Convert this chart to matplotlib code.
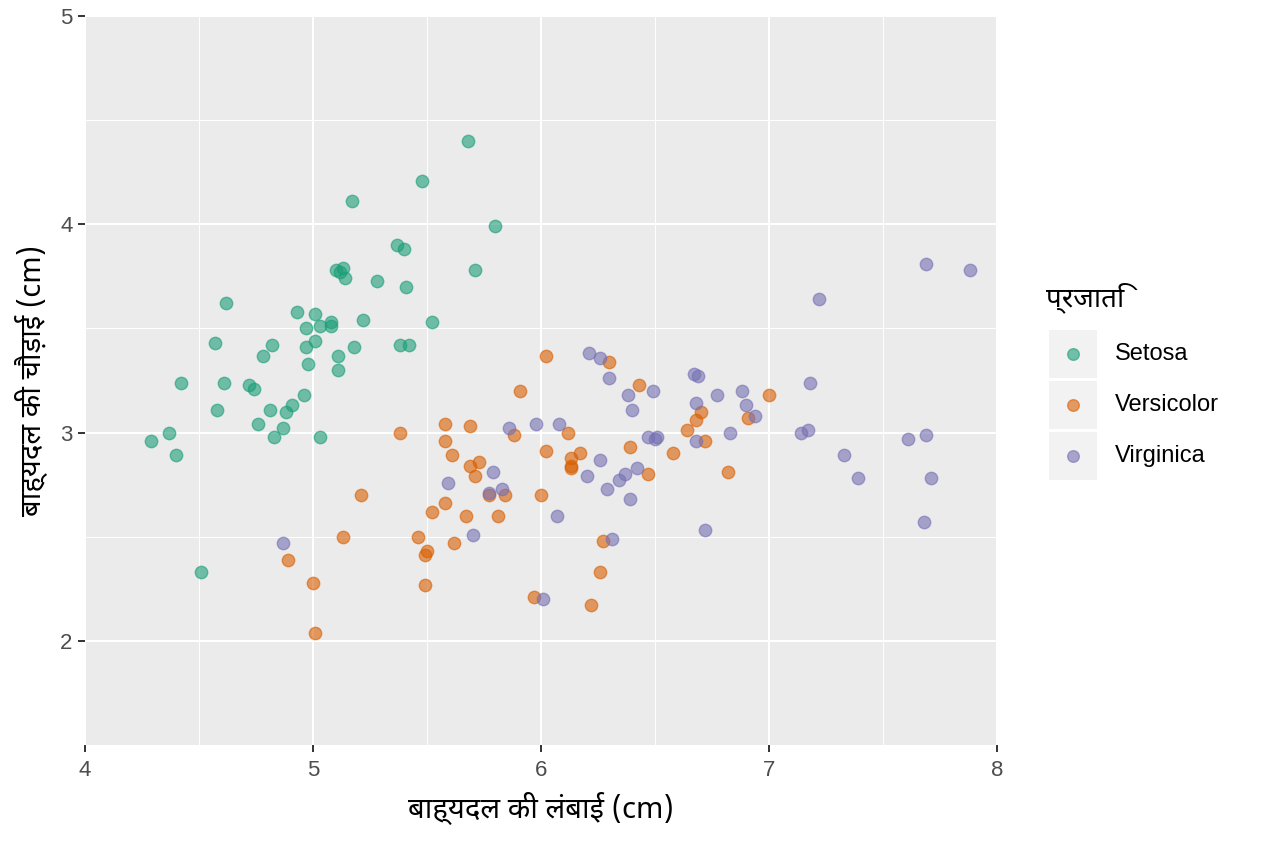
import numpy as np
import matplotlib
matplotlib.use("Agg")
import matplotlib.pyplot as plt
from matplotlib import font_manager
from matplotlib.patches import Rectangle

setosa_x = [4.29, 4.37, 4.40, 4.42, 4.51, 4.57, 4.58, 4.61, 4.62, 4.72,
            4.74, 4.76, 4.78, 4.81, 4.82, 4.83, 4.87, 4.88, 4.91, 4.93,
            4.96, 4.97, 4.97, 4.98, 5.01, 5.01, 5.03, 5.03, 5.08, 5.08,
            5.10, 5.11, 5.11, 5.12, 5.13, 5.14, 5.17, 5.18, 5.22, 5.28,
            5.37, 5.38, 5.40, 5.41, 5.42, 5.48, 5.52, 5.68, 5.71, 5.80]
setosa_y = [2.96, 3.00, 2.89, 3.24, 2.33, 3.43, 3.11, 3.24, 3.62, 3.23,
            3.21, 3.04, 3.37, 3.11, 3.42, 2.98, 3.02, 3.10, 3.13, 3.58,
            3.18, 3.41, 3.50, 3.33, 3.57, 3.44, 2.98, 3.51, 3.51, 3.53,
            3.78, 3.37, 3.30, 3.77, 3.79, 3.74, 4.11, 3.41, 3.54, 3.73,
            3.90, 3.42, 3.88, 3.70, 3.42, 4.21, 3.53, 4.40, 3.78, 3.99]

versicolor_x = [6.02, 5.91, 5.38, 5.58, 5.69, 5.58, 5.61, 5.73, 5.69, 5.71,
                5.88, 5.77, 5.84, 5.58, 5.52, 5.67, 5.81, 6.02, 6.00, 6.12,
                6.13, 6.13, 6.13, 6.17, 6.30, 6.43, 6.39, 6.47, 6.58, 5.21,
                5.13, 5.46, 5.50, 5.49, 5.62, 4.89, 5.00, 5.49, 5.01, 5.97,
                6.27, 6.26, 6.22, 7.00, 6.70, 6.68, 6.64, 6.91, 6.72, 6.82]
versicolor_y = [3.37, 3.20, 3.00, 3.04, 3.03, 2.96, 2.89, 2.86, 2.84, 2.79,
                2.99, 2.70, 2.70, 2.66, 2.62, 2.60, 2.60, 2.91, 2.70, 3.00,
                2.88, 2.83, 2.84, 2.90, 3.34, 3.23, 2.93, 2.80, 2.90, 2.70,
                2.50, 2.50, 2.43, 2.41, 2.47, 2.39, 2.28, 2.27, 2.04, 2.21,
                2.48, 2.33, 2.17, 3.18, 3.10, 3.06, 3.01, 3.07, 2.96, 2.81]

virginica_x = [6.21, 6.26, 6.30, 6.38, 6.40, 6.49, 5.86, 5.98, 6.08, 5.59,
               5.79, 5.77, 5.83, 6.07, 6.20, 6.26, 6.29, 6.34, 6.37, 6.42,
               6.39, 6.47, 6.51, 6.50, 4.87, 5.70, 6.31, 6.01, 6.67, 6.69,
               6.77, 6.88, 6.68, 6.90, 6.94, 6.83, 6.68, 7.18, 7.14, 7.17,
               7.33, 7.39, 7.61, 7.69, 7.71, 7.68, 6.72, 7.22, 7.69, 7.88]
virginica_y = [3.38, 3.36, 3.26, 3.18, 3.11, 3.20, 3.02, 3.04, 3.04, 2.76,
               2.81, 2.71, 2.73, 2.60, 2.79, 2.87, 2.73, 2.77, 2.80, 2.83,
               2.68, 2.98, 2.98, 2.97, 2.47, 2.51, 2.49, 2.20, 3.28, 3.27,
               3.18, 3.20, 3.14, 3.13, 3.08, 3.00, 2.96, 3.24, 3.00, 3.01,
               2.89, 2.78, 2.97, 2.99, 2.78, 2.57, 2.53, 3.64, 3.81, 3.78]

species = ["Setosa", "Versicolor", "Virginica"]
colors = ["#1B9E77", "#D95F02", "#7570B3"]

x_label = "बाह्यदल की लंबाई (cm)"
y_label = "बाह्यदल की चौड़ाई (cm)"
legend_title = "प्रजाति"

# pick a proper Devanagari sans face (matplotlib would otherwise fall back to Unifont)
installed = {f.name for f in font_manager.fontManager.ttflist}
deva = next((n for n in ["Noto Sans Devanagari", "Mukta", "Hind", "Poppins",
                         "Ek Mukta", "FreeSans"] if n in installed), None)
latin = "Liberation Sans"
latin_fam = [latin, "DejaVu Sans"]
deva_fam = [deva, latin, "DejaVu Sans"] if deva else latin_fam
plt.rcParams["font.family"] = latin_fam

W, H = 1264, 843
fig = plt.figure(figsize=(W / 100, H / 100), dpi=100)
ax = fig.add_axes([85 / W, 1 - 745 / H, 912 / W, 729 / H])
ax.set_facecolor("#EBEBEB")

data = [(setosa_x, setosa_y), (versicolor_x, versicolor_y), (virginica_x, virginica_y)]
for (xs, ys), c in zip(data, colors):
    ax.scatter(xs, ys, s=80, color=c, alpha=0.6, edgecolors=c, linewidths=1.0, zorder=3)

ax.set_xlim(4, 8)
ax.set_ylim(1.5, 5)
ax.set_xticks([4, 5, 6, 7, 8])
ax.set_yticks([2, 3, 4, 5])
ax.set_xticks([4.5, 5.5, 6.5, 7.5], minor=True)
ax.set_yticks([1.5, 2.5, 3.5, 4.5], minor=True)
ax.grid(which="major", color="white", linewidth=1.5)
ax.grid(which="minor", color="white", linewidth=0.7)
ax.set_axisbelow(True)
for sp in ax.spines.values():
    sp.set_visible(False)
ax.tick_params(which="major", length=5, width=1.4, color="#333333",
               labelcolor="#4D4D4D", labelsize=16, pad=4)
ax.tick_params(axis="x", which="major", pad=6)
ax.tick_params(which="minor", length=0)

ax.set_xlabel(x_label, fontsize=21, family=deva_fam, color="black", labelpad=8)
ax.set_ylabel(y_label, fontsize=21, family=deva_fam, color="black", labelpad=9)

# legend, ggplot style: grey key boxes, laid out in pixel units
lax = fig.add_axes([1040 / W, 1 - 490 / H, 224 / W, 220 / H])
lax.set_xlim(1040, 1264)
lax.set_ylim(490, 270)
lax.axis("off")
lax.text(1046, 298, legend_title, fontsize=20, family=deva_fam, va="center", ha="left")
for i, (name, c) in enumerate(zip(species, colors)):
    top = 330 + i * 51
    lax.add_patch(Rectangle((1049, top), 48, 48, facecolor="#F2F2F2", edgecolor="none"))
    lax.scatter([1073], [top + 24], s=70, color=c, alpha=0.6, edgecolors=c, linewidths=1.0)
    lax.text(1115, top + 24, name, fontsize=17, va="center", ha="left")

fig.savefig("out.png", dpi=100, facecolor="white")
